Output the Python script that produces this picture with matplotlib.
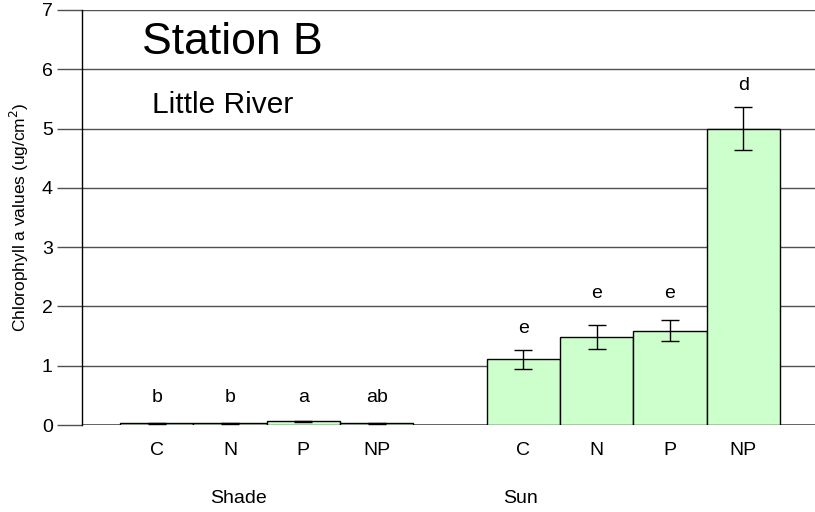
import matplotlib
matplotlib.use('Agg')
import matplotlib.pyplot as plt
import matplotlib.transforms as mtransforms
import numpy as np

plt.rcParams['font.family'] = ['Liberation Sans', 'DejaVu Sans']

# -- DATA --
treatments = ['C', 'N', 'P', 'NP']
groups = ['Shade', 'Sun']
shade_vals = [0.03, 0.03, 0.06, 0.03]
shade_err = [0.01, 0.01, 0.01, 0.01]
sun_vals = [1.11, 1.48, 1.59, 5.00]
sun_err = [0.16, 0.20, 0.18, 0.36]
shade_letters = ['b', 'b', 'a', 'ab']
sun_letters = ['e', 'e', 'e', 'd']
shade_letter_y = [0.46, 0.46, 0.46, 0.46]
sun_letter_y = [1.62, 2.22, 2.22, 5.72]

# bars in bar-width units, one empty slot between the groups
x_shade = np.arange(4)
x_sun = np.arange(5, 9)

fig = plt.figure(figsize=(8.15, 5.12), dpi=100)
ax = fig.add_axes([82 / 815, 1 - 425 / 512, 1 - 82 / 815, 415 / 512])

bar_kw = dict(width=1.0, color='#ccffcc', edgecolor='black', linewidth=1,
              zorder=3, error_kw=dict(ecolor='black', elinewidth=1,
                                      capsize=6.5, capthick=1))
ax.bar(x_shade, shade_vals, yerr=shade_err, **bar_kw)
ax.bar(x_sun, sun_vals, yerr=sun_err, **bar_kw)

for x, y, s in zip(x_shade, shade_letter_y, shade_letters):
    ax.text(x, y, s, ha='center', va='center', fontsize=14)
for x, y, s in zip(x_sun, sun_letter_y, sun_letters):
    ax.text(x, y, s, ha='center', va='center', fontsize=14)

ax.set_xlim(-1.02, 8.98)
ax.set_ylim(0, 7)
ax.set_yticks(range(8))
ax.yaxis.grid(True, color='#505050', linewidth=1, zorder=0)
ax.set_axisbelow(True)
ax.tick_params(axis='y', length=18, width=1, color='#505050',
               labelsize=14, pad=3)

ax.set_xticks(list(x_shade) + list(x_sun))
ax.set_xticklabels(treatments * 2, fontsize=14)
ax.tick_params(axis='x', length=0, pad=12)

for side in ['top', 'right', 'bottom']:
    ax.spines[side].set_visible(False)
ax.spines['left'].set_color('black')
ax.spines['left'].set_linewidth(1)
ax.axhline(0, color='#505050', linewidth=1.2, zorder=1)

ax.set_ylabel('Chlorophyll a values (ug/cm$^2$)', fontsize=12.5, labelpad=8)

# group names under the treatment labels
trans = mtransforms.blended_transform_factory(ax.transData, ax.transAxes)
for x, g in zip([1.11, 4.96], groups):
    ax.text(x, -0.177, g, transform=trans, ha='center', va='center',
            fontsize=14, family=['Liberation Sans Narrow', 'Liberation Sans'])

ax.text(142 / 815, 1 - 42 / 512, 'Station B', transform=fig.transFigure,
        ha='left', va='center', fontsize=32)
ax.text(152 / 815, 1 - 105 / 512, 'Little River', transform=fig.transFigure,
        ha='left', va='center', fontsize=21.5)

fig.savefig('out.png', dpi=100)
